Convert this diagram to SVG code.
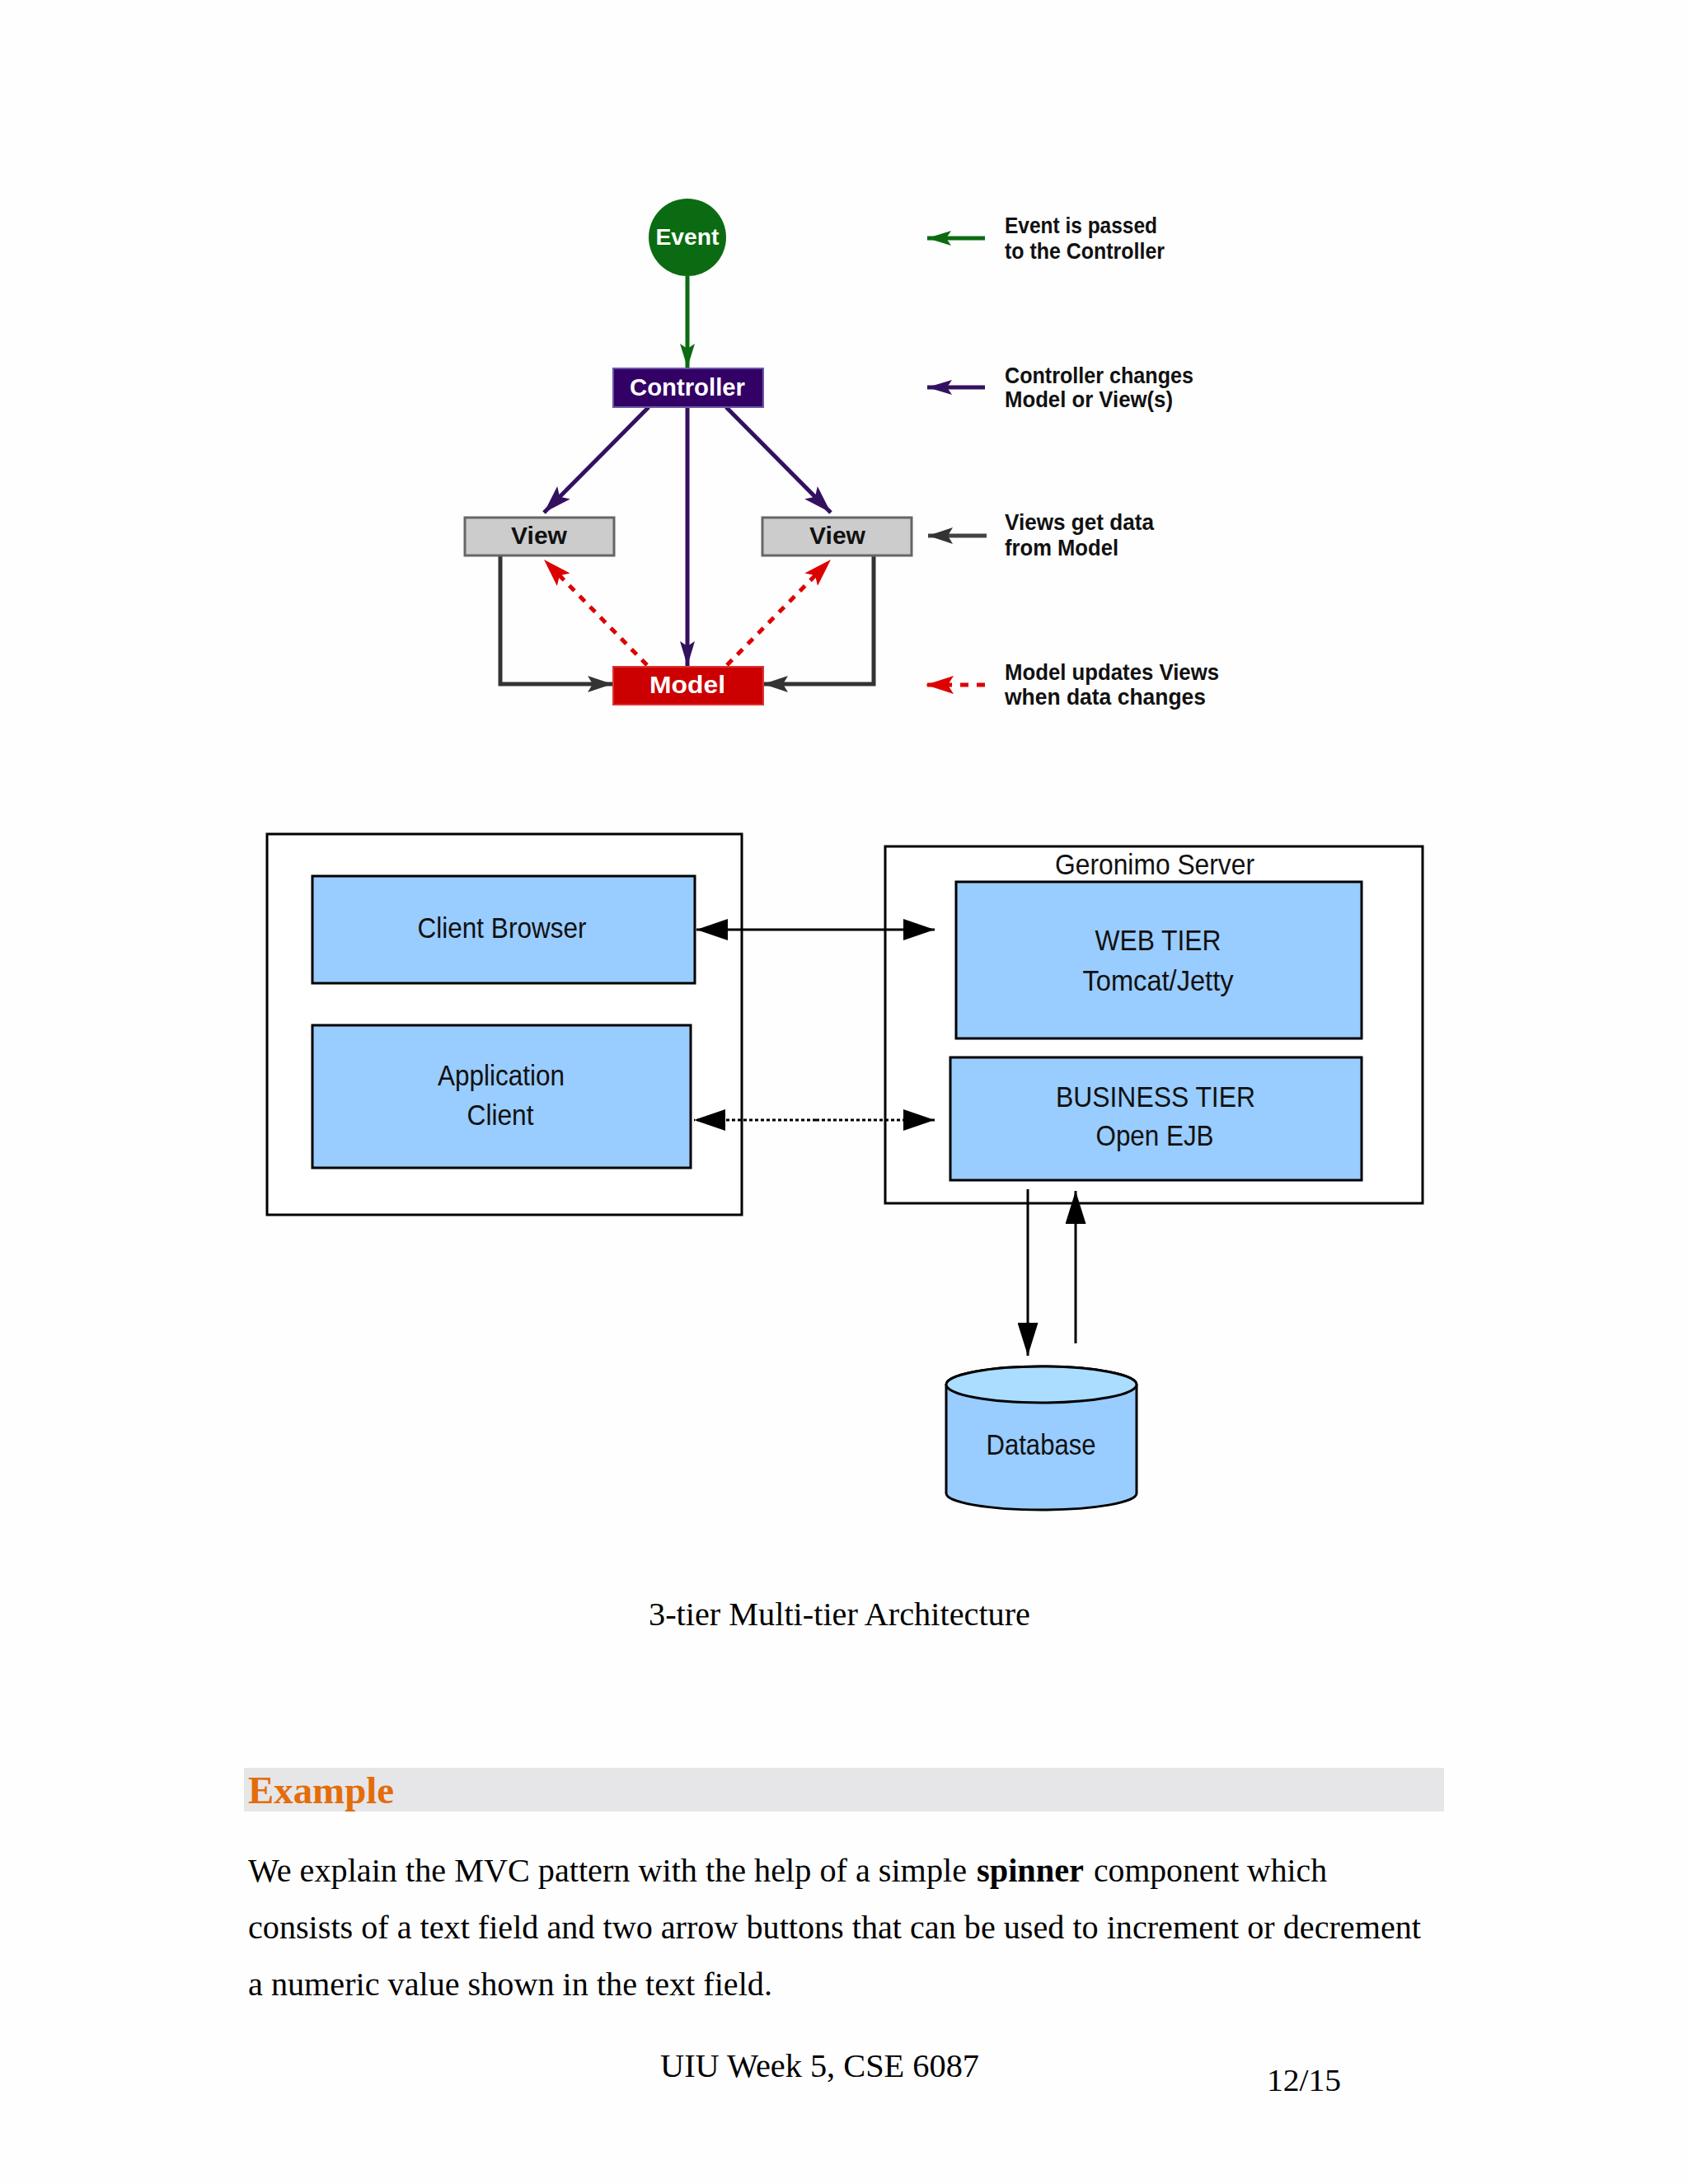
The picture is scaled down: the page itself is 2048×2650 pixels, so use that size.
<svg xmlns="http://www.w3.org/2000/svg" width="2048" height="2650" viewBox="0 0 2048 2650">
<style>
.mvc{font-family:"Liberation Sans","DejaVu Sans",sans-serif;font-weight:bold;}
.leg{font-family:"Liberation Sans","DejaVu Sans",sans-serif;font-weight:bold;font-size:27px;fill:#111;}
.tier{font-family:"Liberation Sans",Arial,sans-serif;font-size:35px;fill:#111;text-anchor:middle;}
.serif{font-family:"Liberation Serif","Times New Roman",serif;fill:#000;}
.blue{fill:#99ccff;stroke:#000;stroke-width:3;}
.outer{fill:#fff;stroke:#000;stroke-width:3;}
.tln{stroke:#000;stroke-width:3;fill:none;}
</style>
<defs>
<marker id="hG" viewBox="0 0 29 18" refX="29" refY="9" markerWidth="29" markerHeight="18" markerUnits="userSpaceOnUse" orient="auto"><path d="M0,0 L29,9 L0,18 L6,9 z" fill="#0b6b12"/></marker>
<marker id="hP" viewBox="0 0 34 22" refX="34" refY="11" markerWidth="34" markerHeight="22" markerUnits="userSpaceOnUse" orient="auto"><path d="M0,0 L34,11 L0,22 L7,11 z" fill="#33115f"/></marker>
<marker id="hPv" viewBox="0 0 30 18" refX="30" refY="9" markerWidth="30" markerHeight="18" markerUnits="userSpaceOnUse" orient="auto"><path d="M0,0 L30,9 L0,18 L6,9 z" fill="#33115f"/></marker>
<marker id="hR" viewBox="0 0 34 22" refX="34" refY="11" markerWidth="34" markerHeight="22" markerUnits="userSpaceOnUse" orient="auto"><path d="M0,0 L34,11 L0,22 L7,11 z" fill="#dd0000"/></marker>
<marker id="hK" viewBox="0 0 30 20" refX="30" refY="10" markerWidth="30" markerHeight="20" markerUnits="userSpaceOnUse" orient="auto"><path d="M0,0 L30,10 L0,20 L6,10 z" fill="#333"/></marker>
<marker id="hB" viewBox="0 0 38 26" refX="38" refY="13" markerWidth="38" markerHeight="26" markerUnits="userSpaceOnUse" orient="auto"><path d="M0,0 L38,13 L0,26 z" fill="#000"/></marker>
<marker id="hD" viewBox="0 0 40 25" refX="40" refY="12.5" markerWidth="40" markerHeight="25" markerUnits="userSpaceOnUse" orient="auto"><path d="M0,0 L40,12.5 L0,25 z" fill="#000"/></marker>
</defs>
<rect x="0" y="0" width="2048" height="2650" fill="#fefefe"/>

<g id="mvc-connectors" fill="none">
<line x1="834" y1="335" x2="834" y2="446" stroke="#0b6b12" stroke-width="5" marker-end="url(#hG)"/>
<line x1="787" y1="494" x2="660" y2="622" stroke="#33115f" stroke-width="5" marker-end="url(#hP)"/>
<line x1="881" y1="494" x2="1008" y2="622" stroke="#33115f" stroke-width="5" marker-end="url(#hP)"/>
<line x1="834" y1="494" x2="834" y2="808" stroke="#33115f" stroke-width="5" marker-end="url(#hPv)"/>
<line x1="785" y1="807" x2="660" y2="679" stroke="#dd0000" stroke-width="5" stroke-dasharray="9 9" marker-end="url(#hR)"/>
<line x1="882" y1="807" x2="1008" y2="679" stroke="#dd0000" stroke-width="5" stroke-dasharray="9 9" marker-end="url(#hR)"/>
<path d="M607,675 V830 H743" stroke="#333" stroke-width="5" marker-end="url(#hK)"/>
<path d="M1060,675 V830 H926" stroke="#333" stroke-width="5" marker-end="url(#hK)"/>
</g>

<g id="event">
<circle cx="834" cy="288" r="47" fill="#0b6b12"/>
<text class="mvc" x="834" y="297" font-size="27" fill="#fff" text-anchor="middle" textLength="77" lengthAdjust="spacingAndGlyphs">Event</text>
</g>
<g id="controller">
<rect x="744" y="447" width="182" height="47" fill="#330066" stroke="#6a58a8" stroke-width="2"/>
<text class="mvc" x="834" y="480" font-size="29" fill="#fff" text-anchor="middle" textLength="140" lengthAdjust="spacingAndGlyphs">Controller</text>
</g>
<g id="view-left">
<rect x="564" y="628" width="181" height="46" fill="#cccccc" stroke="#666" stroke-width="3"/>
<text class="mvc" x="654" y="660" font-size="29" fill="#111" text-anchor="middle" textLength="68" lengthAdjust="spacingAndGlyphs">View</text>
</g>
<g id="view-right">
<rect x="925" y="628" width="181" height="46" fill="#cccccc" stroke="#666" stroke-width="3"/>
<text class="mvc" x="1016" y="660" font-size="29" fill="#111" text-anchor="middle" textLength="68" lengthAdjust="spacingAndGlyphs">View</text>
</g>
<g id="model">
<rect x="744" y="809" width="182" height="46" fill="#cc0000" stroke="#dd3333" stroke-width="2"/>
<text class="mvc" x="834" y="841" font-size="29" fill="#fff" text-anchor="middle" textLength="92" lengthAdjust="spacingAndGlyphs">Model</text>
</g>

<g id="legend">
<line x1="1195" y1="289" x2="1125" y2="289" stroke="#0b6b12" stroke-width="5" marker-end="url(#hG)"/>
<line x1="1195" y1="470" x2="1125" y2="470" stroke="#33115f" stroke-width="5" marker-end="url(#hPv)"/>
<line x1="1197" y1="650" x2="1126" y2="650" stroke="#444" stroke-width="5" marker-end="url(#hK)"/>
<line x1="1195" y1="831" x2="1123" y2="831" stroke="#dd0000" stroke-width="5" stroke-dasharray="10 10" marker-end="url(#hR)"/>
<text class="leg" x="1219" y="283" textLength="185" lengthAdjust="spacingAndGlyphs">Event is passed</text>
<text class="leg" x="1219" y="314" textLength="194" lengthAdjust="spacingAndGlyphs">to the Controller</text>
<text class="leg" x="1219" y="465" textLength="229" lengthAdjust="spacingAndGlyphs">Controller changes</text>
<text class="leg" x="1219" y="494" textLength="204" lengthAdjust="spacingAndGlyphs">Model or View(s)</text>
<text class="leg" x="1219" y="643" textLength="181" lengthAdjust="spacingAndGlyphs">Views get data</text>
<text class="leg" x="1219" y="674" textLength="138" lengthAdjust="spacingAndGlyphs">from Model</text>
<text class="leg" x="1219" y="825" textLength="260" lengthAdjust="spacingAndGlyphs">Model updates Views</text>
<text class="leg" x="1219" y="855" textLength="244" lengthAdjust="spacingAndGlyphs">when data changes</text>
</g>

<g id="client-side">
<rect class="outer" x="324" y="1012" width="576" height="462"/>
</g>
<g id="geronimo-server">
<rect class="outer" x="1074" y="1027" width="652" height="433"/>
<text class="tier" x="1401" y="1061" textLength="242" lengthAdjust="spacingAndGlyphs">Geronimo Server</text>
</g>
<g id="client-browser">
<rect class="blue" x="379" y="1063" width="464" height="130"/>
<text class="tier" x="609" y="1138" textLength="205" lengthAdjust="spacingAndGlyphs">Client Browser</text>
</g>
<g id="application-client">
<rect class="blue" x="379" y="1244" width="459" height="173"/>
<text class="tier" x="608" y="1317" textLength="154" lengthAdjust="spacingAndGlyphs">Application</text>
<text class="tier" x="607" y="1365" textLength="81" lengthAdjust="spacingAndGlyphs">Client</text>
</g>
<g id="web-tier">
<rect class="blue" x="1160" y="1070" width="492" height="190"/>
<text class="tier" x="1405" y="1153" textLength="153" lengthAdjust="spacingAndGlyphs">WEB TIER</text>
<text class="tier" x="1405" y="1202" textLength="183" lengthAdjust="spacingAndGlyphs">Tomcat/Jetty</text>
</g>
<g id="business-tier">
<rect class="blue" x="1153" y="1283" width="499" height="149"/>
<text class="tier" x="1402" y="1343" textLength="242" lengthAdjust="spacingAndGlyphs">BUSINESS TIER</text>
<text class="tier" x="1401" y="1390" textLength="143" lengthAdjust="spacingAndGlyphs">Open EJB</text>
</g>
<g id="database">
<path d="M1148,1680 A115.5,22 0 0,1 1379,1680 V1812 A115.5,20 0 0,1 1148,1812 Z" fill="#99ccff" stroke="#000" stroke-width="3"/>
<ellipse cx="1263.5" cy="1680" rx="115.5" ry="22" fill="#aaddff" stroke="#000" stroke-width="3"/>
<text class="tier" x="1263" y="1765" textLength="133" lengthAdjust="spacingAndGlyphs">Database</text>
</g>
<g id="tier-connectors">
<line class="tln" x1="990" y1="1128" x2="845" y2="1128" marker-end="url(#hB)"/>
<line class="tln" x1="990" y1="1128" x2="1134" y2="1128" marker-end="url(#hB)"/>
<line class="tln" x1="990" y1="1359" x2="842" y2="1359" stroke-width="2.5" stroke-dasharray="4 3" marker-end="url(#hB)"/>
<line class="tln" x1="990" y1="1359" x2="1134" y2="1359" stroke-width="2.5" stroke-dasharray="4 3" marker-end="url(#hB)"/>
<line class="tln" x1="1247" y1="1443" x2="1247" y2="1645" stroke-width="2.5" marker-end="url(#hD)"/>
<line class="tln" x1="1305" y1="1630" x2="1305" y2="1445" stroke-width="2.5" marker-end="url(#hD)"/>
</g>

<text class="serif" x="787" y="1972" font-size="40" textLength="463" lengthAdjust="spacingAndGlyphs">3-tier Multi-tier Architecture</text>

<g id="example-heading">
<rect x="296" y="2145" width="1456" height="53" fill="#e6e6e8"/>
<text class="serif" x="301" y="2188" font-size="46" font-weight="bold" style="fill:#e46c0a" textLength="177" lengthAdjust="spacingAndGlyphs">Example</text>
</g>

<text class="serif" x="301" y="2283" font-size="39" textLength="872" lengthAdjust="spacingAndGlyphs">We explain the MVC pattern with the help of a simple</text>
<text class="serif" x="1185" y="2283" font-size="39" font-weight="bold" textLength="130" lengthAdjust="spacingAndGlyphs">spinner</text>
<text class="serif" x="1327" y="2283" font-size="39" textLength="283" lengthAdjust="spacingAndGlyphs">component which</text>
<text class="serif" x="301" y="2352" font-size="39" textLength="1423" lengthAdjust="spacingAndGlyphs">consists of a text field and two arrow buttons that can be used to increment or decrement</text>
<text class="serif" x="301" y="2421" font-size="39" textLength="636" lengthAdjust="spacingAndGlyphs">a numeric value shown in the text field.</text>

<text class="serif" x="801" y="2520" font-size="40" textLength="387" lengthAdjust="spacingAndGlyphs">UIU Week 5, CSE 6087</text>
<text class="serif" x="1537" y="2537" font-size="38" textLength="90" lengthAdjust="spacingAndGlyphs">12/15</text>
</svg>
